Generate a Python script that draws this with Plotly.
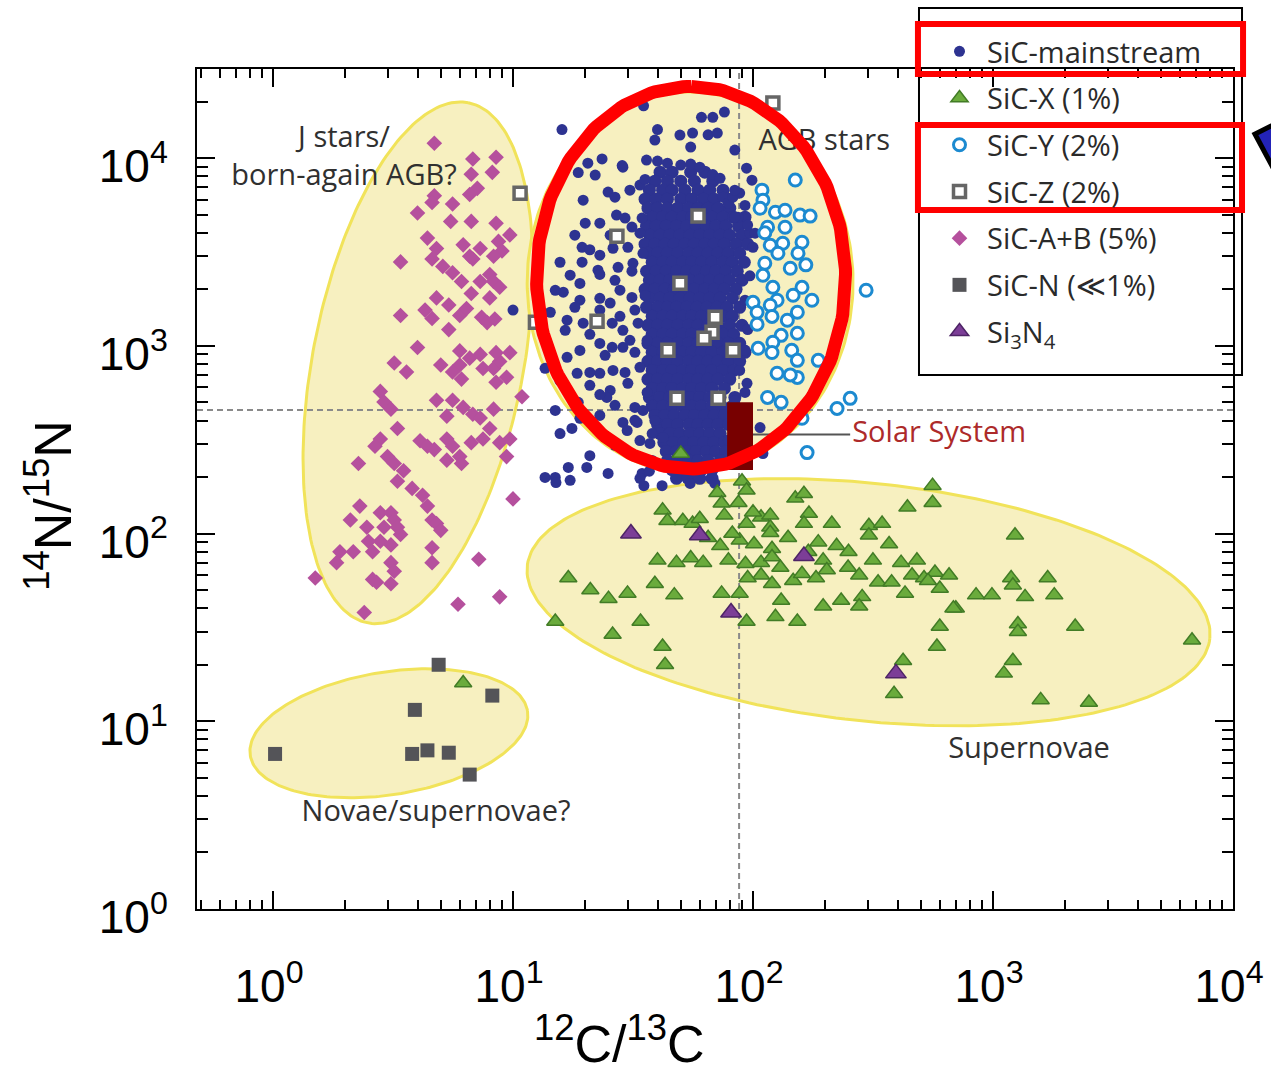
import numpy as np
import plotly.graph_objects as go

# ---------------------------------------------------------------------------
# Presolar grain isotope ratios: (12C/13C, 14N/15N)
# ---------------------------------------------------------------------------
mainstream_field = [
    # outlying mainstream grains
    (35, 19000), (61, 16500), (68, 16500), (76, 17600), (16, 14200), (40, 14200),
    (56, 13600), (65, 13300), (71, 13600), (55, 11450), (20.5, 9400), (23.5, 9900),
    (28.7, 8950), (36, 9760), (40, 9640), (44, 9400), (50, 9180), (55, 9290),
    (60, 8950), (94, 8840), (18.7, 8370), (28.5, 9120), (30.7, 6750), (24.9, 6590),
    (26.6, 6190), (19.6, 5970), (99, 7630), (68, 8170), (75, 6190), (88, 6510),
    (27, 4970), (29.3, 4790), (23, 4500), (20, 4500), (31.3, 4290), (34.5, 4790),
    (33.8, 3980), (78.7, 5750), (86.6, 4845), (97, 3980), (19.4, 3350), (23, 3040),
    (19.4, 2790), (26.1, 3310), (30.1, 3350), (31.6, 2750), (22.6, 2530), (27.4, 2620),
    (34.8, 3110), (19, 2150), (16.2, 1930), (14.3, 1510), (16.8, 1370), (19, 1750),
    (23, 1790), (25.4, 1690), (27.9, 1980), (31.3, 1810), (10, 1550), (23, 1550),
    (19.6, 1320), (16.5, 1210), (23, 1030), (25.9, 1320), (28.7, 1210), (32.2, 1550),
    (33.2, 1320), (25.9, 982), (28.7, 982), (32.2, 923), (36.2, 1070), (16.8, 868),
    (13.6, 759), (18.5, 714), (20.9, 722), (23, 714), (26.1, 740), (29.3, 722),
    (33.8, 768), (20.9, 616), (25.4, 579), (24.6, 531), (30.1, 631), (36.2, 565),
    (18.7, 500), (26.6, 482), (32.2, 470), (34.8, 453), (28.7, 391), (32.9, 391),
    (29.9, 354), (15.7, 341), (17.6, 363), (38, 341), (20.3, 225), (15, 199),
    (17.3, 192), (92.6, 565), (107, 367), (88.3, 325), (94.4, 631), (82.5, 6190),
    (84, 4845), (102, 3980), (100, 3350), (19, 411), (32.2, 401), (37.2, 302),
    (34.5, 209), (42.2, 325), (110, 267), (53, 197), (54.7, 185), (69.4, 185),
    (13.6, 199), (15.1, 187), (17, 225), (24.9, 209), (33.8, 197), (35.1, 180),
    (41.8, 180), (23, 426),
    (22, 8120), (33.8, 7180), (18.1, 3885), (39, 12470), (49.6, 13270), (15.7, 2788),
    (18.1, 1604), (20.9, 1152), (24.2, 890), (27.9, 1437), (35.5, 1850), (31.3, 2500),
    (25.4, 3885), (20.9, 3250), (17.3, 2380), (15, 1977), (20.9, 260), (26.6, 295),
    (33.8, 313), (23, 550), (19, 945), (15.7, 650), (30.7, 1070), (84, 11040),
    (26.6, 2235), (23, 2400), (17.3, 545), (15, 453),
    # edge of the dense population
    (35.5, 7700), (72.9, 7800), (84, 6750), (92.6, 5600), (95, 4400), (97, 2360),
    (92.6, 1750), (95, 1220), (92.6, 950), (88, 740), (84, 510), (79, 315),
    (38, 245), (39, 400), (37, 215),
]

mainstream_core = [
    (41, 8420), (46, 8420), (55, 8420), (63, 8420),
    (39, 7540), (44, 7540), (50, 7540), (57, 7540), (68, 7540),
    (37, 6750), (42, 6750), (46, 6750), (52, 6750), (59, 6750), (66, 6750), (75, 6750),
    (35.5, 6045), (39.5, 6045), (44, 6045), (50, 6045), (55.5, 6045), (62, 6045), (69, 6045), (79, 6045),
    (36.5, 5410), (40, 5410), (44, 5410), (48.5, 5410), (54, 5410), (59, 5410), (65, 5410), (71.5, 5410), (80, 5410),
    (38, 4845), (42, 4845), (46, 4845), (51, 4845), (55.5, 4845), (61, 4845), (67.5, 4845), (75, 4845), (83, 4845), (92.6, 4845),
    (36, 4340), (39.5, 4340), (43.5, 4340), (48, 4340), (53, 4340), (58, 4340), (64, 4340), (70, 4340), (77, 4340), (87, 4340),
    (37.2, 3885), (41, 3885), (45, 3885), (49.6, 3885), (54.7, 3885), (60, 3885), (66, 3885), (73, 3885), (80, 3885), (90, 3885),
    (35.5, 3478), (39, 3478), (43, 3478), (47, 3478), (52, 3478), (57, 3478), (63, 3478), (69, 3478), (76, 3478), (85, 3478), (95, 3478),
    (36.5, 3114), (40, 3114), (44, 3114), (48.5, 3114), (54, 3114), (59, 3114), (65, 3114), (71.5, 3114), (79, 3114), (88, 3114),
    (38, 2788), (42, 2788), (46, 2788), (51, 2788), (55.5, 2788), (61, 2788), (67.5, 2788), (75, 2788), (82, 2788), (92, 2788),
    (36, 2497), (39.5, 2497), (43.5, 2497), (48, 2497), (53, 2497), (58, 2497), (64, 2497), (70, 2497), (77, 2497), (86, 2497),
    (37, 2235), (41, 2235), (45, 2235), (49.6, 2235), (54.7, 2235), (60, 2235), (66, 2235), (73, 2235), (80, 2235), (90, 2235),
    (35.5, 2001), (39, 2001), (43, 2001), (47, 2001), (52, 2001), (57, 2001), (63, 2001), (69, 2001), (76, 2001), (85, 2001),
    (37, 1792), (41, 1792), (45, 1792), (49.6, 1792), (54.7, 1792), (60, 1792), (66, 1792), (73, 1792), (82, 1792),
    (36, 1604), (40, 1604), (44, 1604), (48, 1604), (53, 1604), (58.5, 1604), (64.5, 1604), (71, 1604), (78, 1604), (88, 1604),
    (38, 1437), (42, 1437), (46, 1437), (51, 1437), (55.5, 1437), (61, 1437), (67.5, 1437), (75, 1437), (82, 1437),
    (36.5, 1286), (40, 1286), (44, 1286), (48.5, 1286), (54, 1286), (59, 1286), (65, 1286), (71.5, 1286), (80, 1286), (90, 1286),
    (38, 1152), (42, 1152), (46, 1152), (51, 1152), (55.5, 1152), (61, 1152), (67.5, 1152), (75, 1152), (83, 1152),
    (36.5, 1031), (40, 1031), (44, 1031), (48.5, 1031), (54, 1031), (59, 1031), (65, 1031), (71.5, 1031), (79, 1031), (88, 1031),
    (38, 923), (42, 923), (46, 923), (51, 923), (55.5, 923), (61, 923), (67.5, 923), (75, 923), (82, 923), (92.6, 923),
    (36.5, 827), (40, 827), (44, 827), (48.5, 827), (54, 827), (59, 827), (65, 827), (71.5, 827), (79, 827), (88, 827),
    (38, 740), (42, 740), (46, 740), (51, 740), (55.5, 740), (61, 740), (67.5, 740), (75, 740), (83, 740),
    (36.5, 663), (40, 663), (44, 663), (48.5, 663), (54, 663), (59, 663), (65, 663), (71.5, 663), (80, 663),
    (38, 593), (42, 593), (46, 593), (51, 593), (55.5, 593), (61, 593), (67.5, 593), (76, 593),
    (37, 531), (41, 531), (45, 531), (49.6, 531), (54.7, 531), (60, 531), (66, 531), (72.9, 531), (84, 531),
    (38, 476), (42, 476), (46, 476), (51, 476), (55.5, 476), (61, 476), (67.5, 476), (74, 476), (82, 476),
    (39, 426), (43, 426), (47, 426), (52, 426), (57, 426), (63, 426), (69, 426), (76, 426),
    (40, 381), (44, 381), (48.5, 381), (54, 381), (59, 381), (65, 381), (71.5, 381), (79, 381),
    (41, 341), (45, 341), (49.6, 341), (54.7, 341), (60, 341), (66, 341), (73, 341),
    (42.5, 306), (46.5, 306), (51.5, 306), (56.5, 306), (62.5, 306), (68.5, 306), (76, 306),
    (43.5, 274), (48, 274), (53, 274), (58, 274), (64, 274), (70, 274), (77, 274),
    (44, 245), (48.5, 245), (54, 245), (59, 245), (65, 245), (73, 245),
    (46, 219), (51, 219), (55.5, 219), (61, 219), (67.5, 219),
    (48, 197), (54, 197), (60, 197), (67.5, 197),
]

sic_x = [
    (90, 190), (94, 170), (71, 165), (150, 154), (163, 163), (560, 180), (440, 138),
    (560, 146), (42, 133), (44, 117), (51, 117), (56, 113), (74, 145), (76, 125),
    (87, 146), (94, 113), (108, 122), (118, 125), (118, 108), (171, 128), (163, 113),
    (213, 113), (304, 110), (345, 113), (1235, 98), (73, 86), (88, 92), (101, 88),
    (118, 101), (120, 83), (187, 90), (223, 86), (304, 98), (369, 88), (40, 72),
    (48, 70), (55, 74), (62, 70), (79, 72), (93, 69), (108, 70), (120, 75), (196, 72),
    (249, 66), (316, 72), (414, 70), (482, 72), (573, 62), (17, 58), (21, 50), (25, 45),
    (30, 48), (39, 54), (47, 47), (74, 48), (88, 48), (108, 60), (120, 54), (131, 44),
    (147, 56), (160, 61), (183, 58), (203, 64), (233, 44), (277, 60), (285, 46),
    (332, 55), (378, 55), (430, 48), (460, 60), (516, 58), (536, 56), (600, 51),
    (656, 60), (700, 40), (850, 47), (990, 47), (1190, 58), (1210, 53), (1360, 46),
    (1690, 58), (1800, 47), (124, 36), (153, 34), (196, 41), (277, 41), (684, 40),
    (600, 32), (1270, 33), (1270, 30), (2200, 32), (15, 34), (26, 29), (34, 34),
    (42, 25), (43, 20), (584, 25), (422, 21), (1210, 21), (1110, 18), (387, 14),
    (1580, 13), (2510, 12.6), (6750, 27), (94, 34), (50, 267), (6.2, 16),
    (82, 100), (65, 95), (140, 95), (60, 120), (100, 130), (130, 66), (170, 80),
    (250, 80), (95, 58),
]

sic_y = [
    (150, 7640), (109, 6750), (110, 5970), (107, 5410), (124, 5150), (136, 5280),
    (157, 4970), (173, 4910), (115, 4280), (136, 4280), (118, 3435), (133, 3520),
    (160, 3565), (127, 3115), (154, 3115), (112, 2755), (143, 2590), (110, 2375),
    (121, 2050), (160, 2050), (147, 1860), (126, 1750), (100, 1705), (118, 1645),
    (153, 1510), (104, 1510), (120, 1435), (139, 1368), (104, 1303), (131, 1137),
    (153, 1166), (121, 1045), (105, 970), (120, 922), (145, 946), (153, 837),
    (187, 837), (126, 714), (153, 679), (115, 531), (131, 500), (224, 464),
    (254, 525), (160, 411), (168, 270), (296, 1977), (176, 1750), (166, 2700),
    (112, 4000), (143, 700),
]

sic_z = [
    (10.7, 6500), (121, 19650), (59, 4910), (27.1, 3840), (49.6, 2155), (22.4, 1350),
    (69.5, 1420), (67.5, 1180), (62.5, 1097), (44.2, 946), (82.6, 946), (48.2, 525),
    (71.5, 525), (12.4, 1335),
]

sic_ab = [
    (4.7, 12000), (6.8, 9900), (8.5, 10100), (8.2, 8400), (6.7, 8200), (7.1, 6900),
    (6.6, 6400), (4.7, 6300), (5.6, 5700), (4.0, 5100), (4.6, 5800), (5.5, 4600),
    (6.7, 4600), (8.5, 4500), (9.7, 3900), (4.4, 3750), (4.8, 3300), (6.2, 3450),
    (6.6, 3000), (4.6, 2900), (5.1, 2650), (5.6, 2450), (6.1, 2200), (6.8, 2900),
    (7.3, 3300), (8.7, 3600), (9.0, 3200), (8.3, 3000), (3.4, 2800), (8.0, 2400),
    (7.3, 2200), (8.3, 2200), (6.7, 1900), (8.0, 1800), (8.8, 2050), (4.8, 1800),
    (5.4, 1650), (3.4, 1450), (4.3, 1550), (4.6, 1400), (5.4, 1220), (6.0, 1450),
    (6.4, 1580), (7.4, 1420), (7.8, 1330), (8.4, 1390), (4.0, 980), (3.2, 810),
    (3.6, 725), (5.0, 790), (6.0, 940), (6.0, 790), (6.6, 860), (7.3, 900),
    (7.5, 757), (8.3, 757), (8.8, 826), (8.5, 920), (9.7, 920), (5.6, 725),
    (6.1, 665), (8.5, 640), (9.4, 680), (10.9, 536), (2.8, 572), (2.9, 502),
    (3.1, 460), (4.8, 513), (5.6, 513), (6.2, 470), (6.8, 432), (5.3, 422),
    (7.3, 413), (8.3, 460), (2.8, 319), (2.66, 292), (3.0, 257), (3.3, 363),
    (4.1, 312), (4.4, 292), (4.7, 280), (5.3, 319), (5.6, 292), (6.0, 257),
    (6.7, 305), (7.5, 319), (8.0, 363), (8.8, 305), (9.7, 319), (9.4, 257),
    (5.3, 246), (6.1, 236), (2.27, 236), (3.2, 236), (3.5, 216), (3.3, 190),
    (3.8, 174), (4.2, 160), (4.4, 140), (4.6, 118), (4.8, 113), (5.0, 104),
    (10.0, 153), (2.3, 140), (2.1, 118), (2.46, 108), (2.8, 129), (3.1, 129),
    (2.9, 108), (3.2, 118), (3.4, 99), (2.8, 91), (3.1, 87), (3.3, 108),
    (2.5, 91), (1.9, 80), (1.84, 70), (2.16, 80), (2.6, 80), (3.1, 70),
    (2.6, 57), (2.7, 55), (3.2, 63), (3.1, 54), (4.6, 84), (4.6, 70),
    (1.5, 58), (2.4, 38), (5.9, 42), (8.8, 46), (7.2, 73),
]

sic_n = [
    (4.9, 20), (8.2, 13.7), (3.9, 11.5), (1.02, 6.7), (3.8, 6.7), (4.4, 7.0),
    (5.4, 6.8), (6.6, 5.2),
]

si3n4 = [(31, 100), (60, 98), (163, 76), (81, 38), (394, 18)]

# Solar reference values
SOLAR_C = 87.5
SOLAR_N = 455
SOLAR_BOX_C = [78, 100]
SOLAR_BOX_N = [218, 500]
SOLAR_LEADER_C = [100, 254]
SOLAR_LEADER_N = 337

# Axis extents (log10) and ticks
X_RANGE = [-0.3167, 4.0]
Y_RANGE = [0.0, 4.4747]
X_TICKS = [1, 10, 100, 1000, 10000]
Y_TICKS = [1, 10, 100, 1000, 10000]
X_TICKTEXT = ["10<sup>0</sup>", "10<sup>1</sup>", "10<sup>2</sup>", "10<sup>3</sup>", "10<sup>4</sup>"]
Y_TICKTEXT = ["10<sup>0</sup>", "10<sup>1</sup>", "10<sup>2</sup>", "10<sup>3</sup>", "10<sup>4</sup>"]

# Stellar-source regions: centre (C ratio, N ratio) and semi-axis vectors in decades
REGIONS = {
    "jstars": ((4.02, 812), (0.2096, 1.3855), (0.4308, -0.1068)),
    "agb": ((54.7, 2182), (0.0, 1.0133), (0.679, 0.0)),
    "novae": ((3.04, 8.63), (0.5776, 0.1185), (0.0404, -0.3228)),
    "supernovae": ((303, 43.1), (1.4221, -0.1929), (0.0521, 0.6295)),
}
HIGHLIGHT = ((55.2, 2305), (0.0, 1.0187), (0.6438, 0.0))

# Region labels: text, C ratio, N ratio
LABELS = [
    ("J stars/<br>born-again AGB?", 1.977, 9880),
    ("AGB stars", 198, 12020),
    ("Supernovae", 1413, 6.96),
    ("Novae/supernovae?", 4.78, 3.21),
]

TEXT_FONT = "Open Sans, Noto Sans, DejaVu Sans, sans-serif"
AXIS_FONT = "Liberation Sans, Arial, Helvetica, sans-serif"


def ellipse(center, major, minor, n=240):
    t = np.linspace(0, 2 * np.pi, n)
    lx = np.log10(center[0]) + major[0] * np.cos(t) + minor[0] * np.sin(t)
    ly = np.log10(center[1]) + major[1] * np.cos(t) + minor[1] * np.sin(t)
    return 10 ** lx, 10 ** ly


def split(pairs):
    xs, ys = zip(*pairs)
    return list(xs), list(ys)


fig = go.Figure()

# shaded source regions
for key in ["jstars", "agb", "novae", "supernovae"]:
    ex, ey = ellipse(*REGIONS[key])
    fig.add_trace(go.Scatter(
        x=ex, y=ey, mode="lines", fill="toself",
        fillcolor="#f7f0c0", line=dict(color="#f1e35a", width=3),
        hoverinfo="skip", showlegend=False))

# solar reference dashed lines
x_lo, x_hi = 10 ** X_RANGE[0], 10 ** X_RANGE[1]
y_lo, y_hi = 10 ** Y_RANGE[0], 10 ** Y_RANGE[1]
fig.add_trace(go.Scatter(x=[SOLAR_C, SOLAR_C], y=[y_lo, y_hi], mode="lines",
                         line=dict(color="#8a8a8a", width=2, dash="6px,4px"),
                         hoverinfo="skip", showlegend=False))
fig.add_trace(go.Scatter(x=[x_lo, x_hi], y=[SOLAR_N, SOLAR_N], mode="lines",
                         line=dict(color="#8a8a8a", width=2, dash="6px,4px"),
                         hoverinfo="skip", showlegend=False))

# region labels
for text, cx, cy in LABELS:
    fig.add_trace(go.Scatter(x=[cx], y=[cy], mode="text", text=[text],
                             textposition="middle center",
                             textfont=dict(family=TEXT_FONT, size=29, color="#303030"),
                             hoverinfo="skip", showlegend=False))

# dense mainstream population (shares the legend entry of the mainstream grains)
MS_COLOR = "#2d3391"
cx_core, cy_core = split(mainstream_core)
fig.add_trace(go.Scatter(x=cx_core, y=cy_core, mode="markers", name="SiC-mainstream",
                         marker=dict(symbol="circle", size=13, color=MS_COLOR, line=dict(width=0)),
                         legendgroup="SiC-mainstream", showlegend=False, hoverinfo="skip"))

# grain populations
series = [
    ("SiC-A+B (5%)", sic_ab, dict(symbol="diamond", size=12, color="#b5509d", line=dict(width=0)), 5),
    ("SiC-N (\u226a1%)", sic_n, dict(symbol="square", size=14, color="#545458", line=dict(width=0)), 6),
    ("SiC-mainstream", mainstream_field, dict(symbol="circle", size=11, color=MS_COLOR, line=dict(width=0)), 1),
    ("SiC-Y (2%)", sic_y, dict(symbol="circle", size=12, color="white", line=dict(color="#1c8ad0", width=3)), 3),
    ("SiC-Z (2%)", sic_z, dict(symbol="square", size=12, color="white", line=dict(color="#666666", width=3.5)), 4),
    ("SiC-X (1%)", sic_x, dict(symbol="triangle-up", size=15, color="#6aab3c", line=dict(color="#427c26", width=1.5)), 2),
    ("Si<sub>3</sub>N<sub>4</sub>", si3n4, dict(symbol="triangle-up", size=18, color="#7c3e97", line=dict(color="#4e2466", width=1.5)), 7),
]
for name, pairs, marker, rank in series:
    xs, ys = split(pairs)
    fig.add_trace(go.Scatter(x=xs, y=ys, mode="markers", name=name, marker=marker,
                             legendgroup=name, legendrank=rank, hoverinfo="skip"))

# solar system marker and label
fig.add_trace(go.Scatter(
    x=[SOLAR_BOX_C[0], SOLAR_BOX_C[1], SOLAR_BOX_C[1], SOLAR_BOX_C[0], SOLAR_BOX_C[0]],
    y=[SOLAR_BOX_N[0], SOLAR_BOX_N[0], SOLAR_BOX_N[1], SOLAR_BOX_N[1], SOLAR_BOX_N[0]],
    mode="lines", fill="toself", fillcolor="#780000", line=dict(width=0, color="#780000"),
    hoverinfo="skip", showlegend=False))
fig.add_trace(go.Scatter(x=SOLAR_LEADER_C, y=[SOLAR_LEADER_N, SOLAR_LEADER_N], mode="lines",
                         line=dict(color="#555555", width=2), hoverinfo="skip", showlegend=False))
fig.add_trace(go.Scatter(x=[SOLAR_LEADER_C[1] * 1.02], y=[SOLAR_LEADER_N], mode="text",
                         text=["Solar System"], textposition="middle right",
                         textfont=dict(family=TEXT_FONT, size=29, color="#ad2a2a"),
                         hoverinfo="skip", showlegend=False))

# red highlight around the mainstream population
hx, hy = ellipse(*HIGHLIGHT)
fig.add_trace(go.Scatter(x=hx, y=hy, mode="lines", line=dict(color="#ff0000", width=13),
                         hoverinfo="skip", showlegend=False))

axis_common = dict(
    type="log", showgrid=False, zeroline=False, automargin=False,
    showline=True, linecolor="black", linewidth=2, mirror="allticks",
    ticks="inside", ticklen=18, tickwidth=2, tickcolor="black",
    tickmode="array",
    tickfont=dict(family=AXIS_FONT, size=46, color="black"),
)
minor_x = [m * 10 ** e for e in range(-1, 4) for m in range(2, 10)]
minor_y = [m * 10 ** e for e in range(0, 5) for m in range(2, 10)]

fig.update_xaxes(range=X_RANGE, tickvals=X_TICKS, ticktext=X_TICKTEXT,
                 ticklabelstandoff=36, ticklabelshift=-4,
                 minor=dict(ticks="inside", ticklen=9, tickwidth=1.5, tickcolor="black",
                            tickmode="array", tickvals=minor_x, showgrid=False),
                 **axis_common)
fig.update_yaxes(range=Y_RANGE, tickvals=Y_TICKS, ticktext=Y_TICKTEXT,
                 ticklabelstandoff=18, ticklabelshift=8,
                 minor=dict(ticks="inside", ticklen=11, tickwidth=1.5, tickcolor="black",
                            tickmode="array", tickvals=minor_y, showgrid=False),
                 **axis_common)

fig.update_layout(
    width=1271, height=1074, autosize=False,
    margin=dict(l=197, r=38, t=69, b=165, pad=0, autoexpand=False),
    paper_bgcolor="white", plot_bgcolor="white",
    showlegend=True,
    legend=dict(
        xref="container", yref="container",
        x=932 / 1271, y=1 - 26 / 1074, xanchor="left", yanchor="top",
        bgcolor="rgba(0,0,0,0)", borderwidth=0,
        font=dict(family=TEXT_FONT, size=29, color="#2a2a2a"),
        traceorder="grouped", tracegroupgap=6, itemwidth=45,
    ),
    annotations=[
        dict(text="<sup>12</sup>C/<sup>13</sup>C", xref="paper", yref="paper",
             x=0.408, y=-0.156, xanchor="center", yanchor="middle", showarrow=False,
             font=dict(family=AXIS_FONT, size=52, color="black")),
        dict(text="<sup>14</sup>N/<sup>15</sup>N", xref="paper", yref="paper",
             x=-0.143, y=0.481, xanchor="center", yanchor="middle", showarrow=False,
             textangle=-90, font=dict(family=AXIS_FONT, size=52, color="black")),
    ],
    shapes=[
        # legend frame
        dict(type="rect", xref="paper", yref="paper", x0=0.6969, x1=1.0087, y0=0.6357, y1=1.0726,
             line=dict(color="black", width=2), layer="above"),
        # highlight boxes around legend entries
        dict(type="rect", xref="paper", yref="paper", x0=0.6959, x1=1.0097, y0=0.9940, y1=1.0536,
             line=dict(color="#ff0000", width=6), layer="above"),
        dict(type="rect", xref="paper", yref="paper", x0=0.6959, x1=1.0087, y0=0.8321, y1=0.9333,
             line=dict(color="#ff0000", width=6), layer="above"),
        # arrow tip at the right edge
        dict(type="path", xref="paper", yref="paper",
             path="M 1.0502 0.9405 L 1.0212 0.9226 L 1.0405 0.8780 Z",
             fillcolor="#2323b8", line=dict(color="black", width=5), layer="above"),
    ],
)

fig.write_html("out.html")
